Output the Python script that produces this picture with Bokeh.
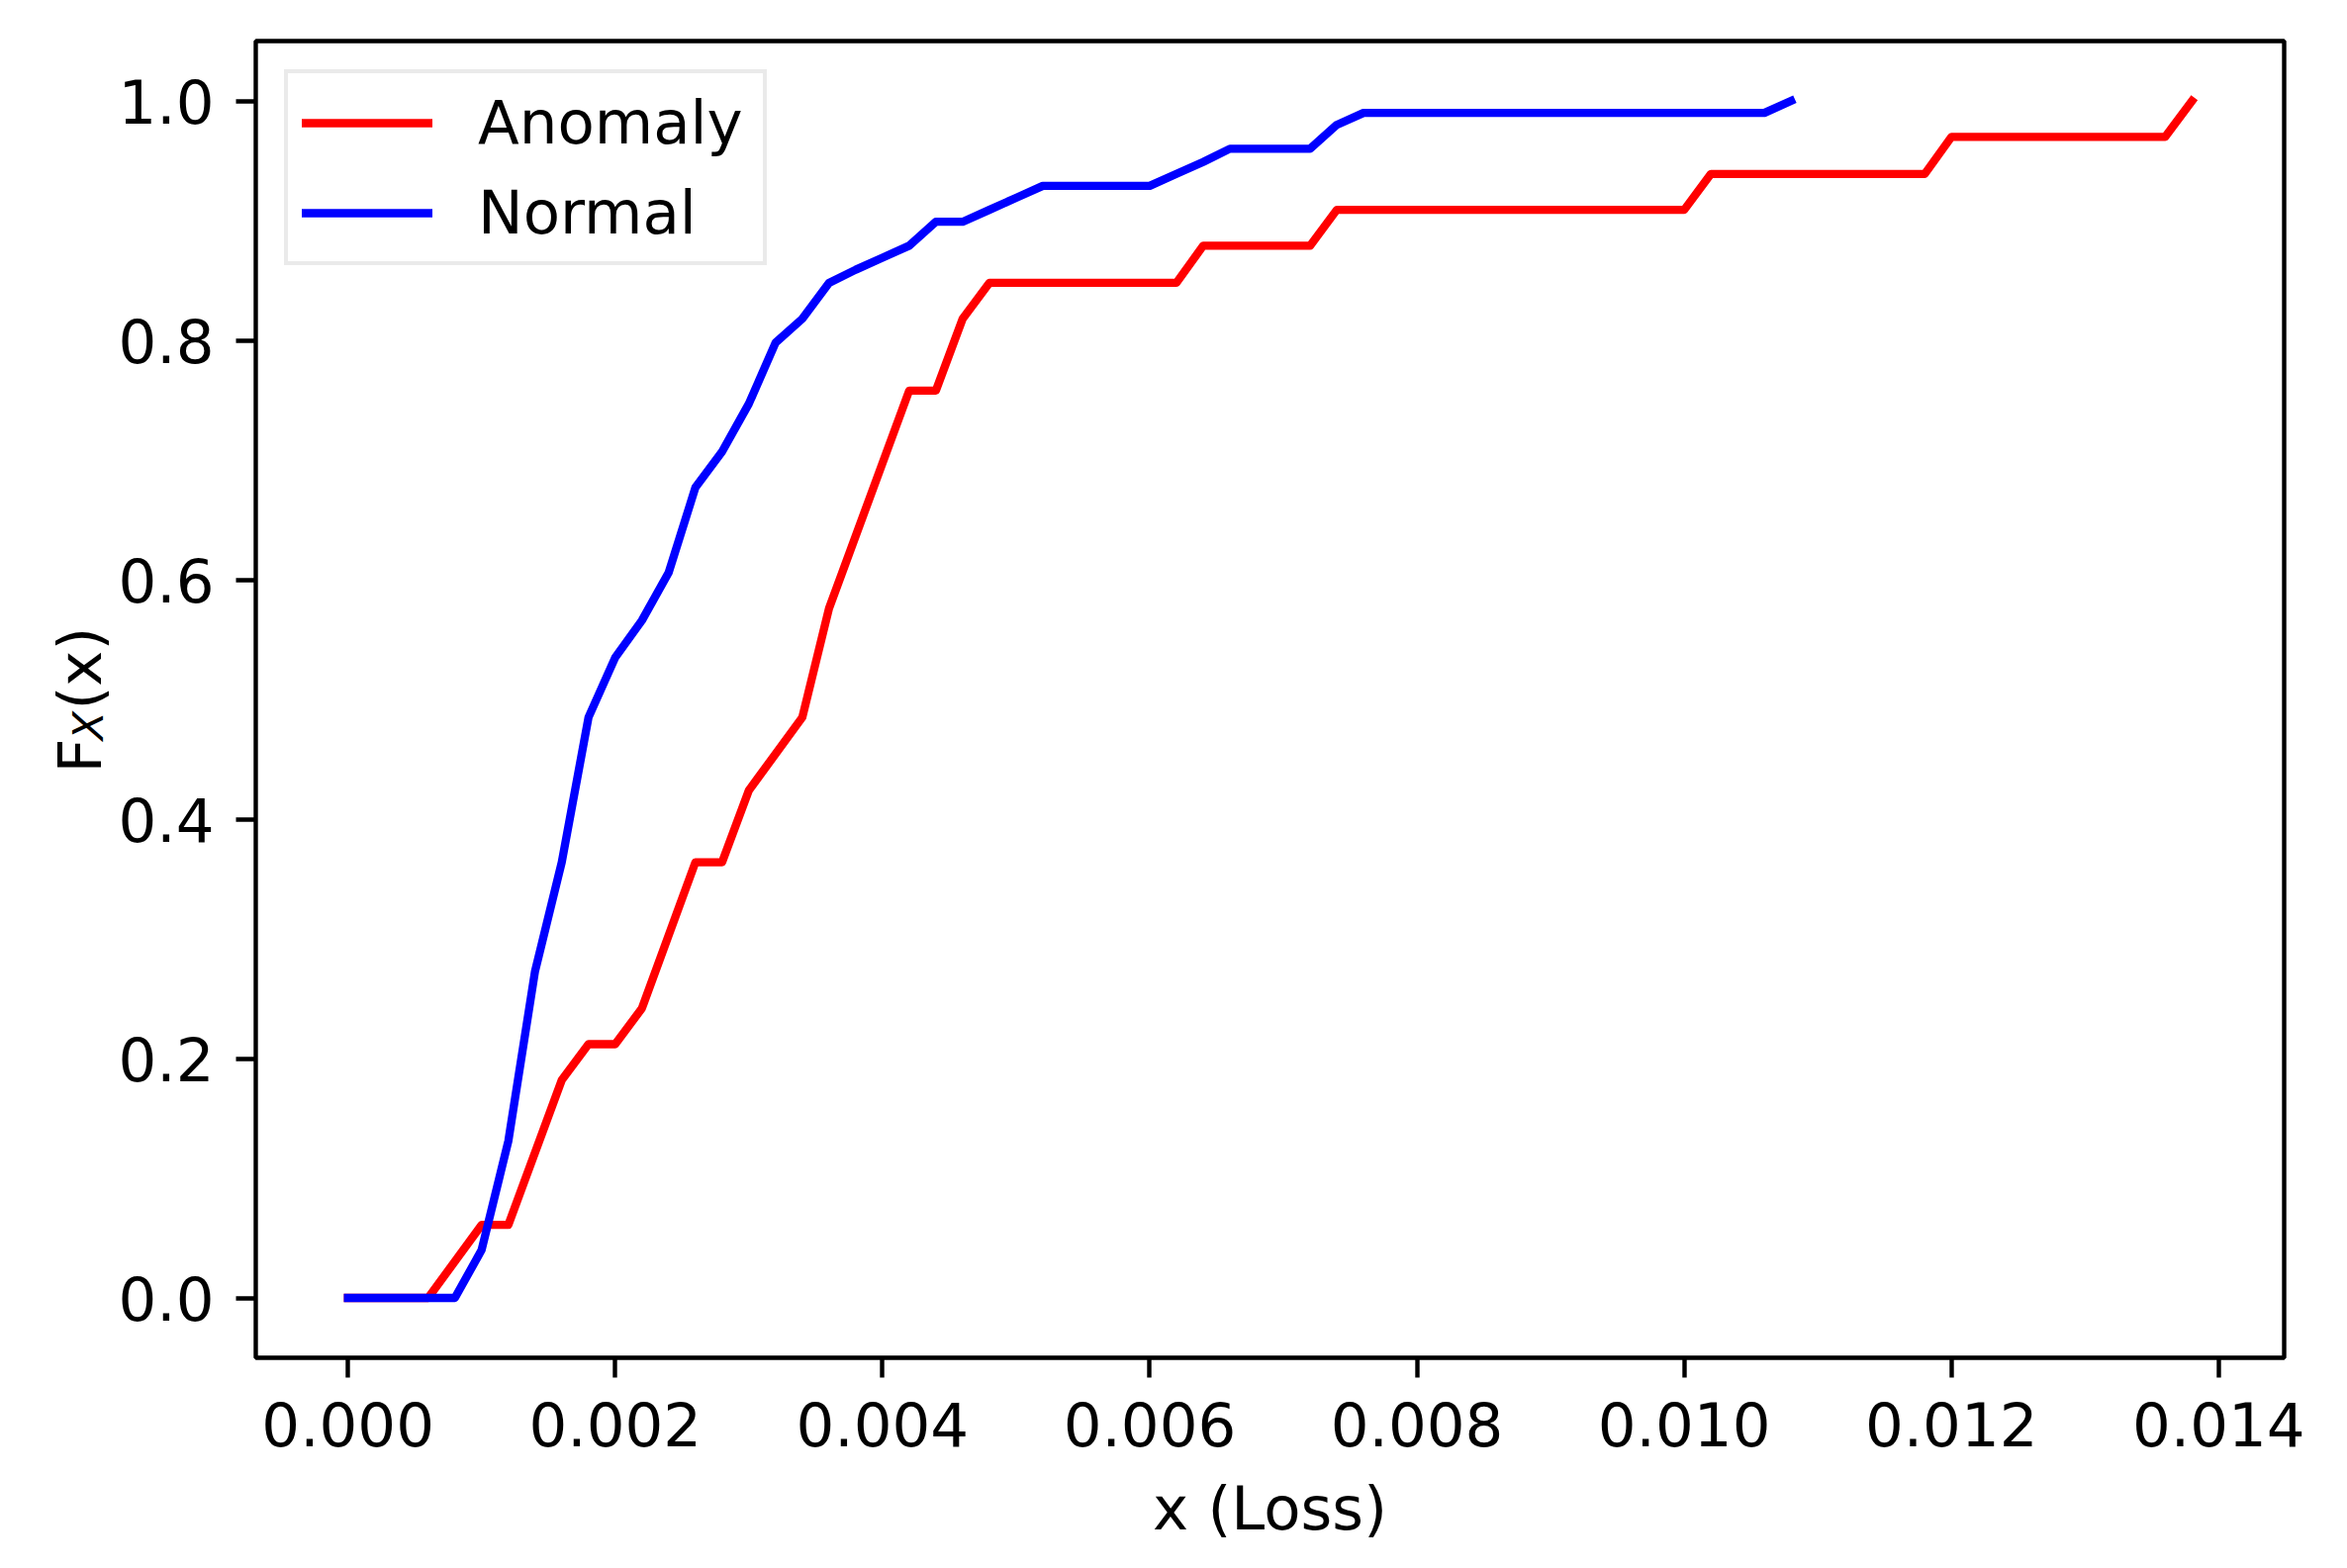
import math
from bokeh.plotting import figure
from bokeh.models import Range1d, FixedTicker, PrintfTickFormatter
from bokeh.core.properties import value
from bokeh.embed import file_html
from bokeh.resources import INLINE

# ---- data ----
anomaly_x = [0.0000, 0.0006, 0.0010, 0.0012, 0.0016, 0.0018, 0.0020, 0.0022, 0.0026,
             0.0028, 0.0030, 0.0034, 0.0036, 0.0042, 0.0044, 0.0046, 0.0048, 0.0062,
             0.0064, 0.0072, 0.0074, 0.0100, 0.0102, 0.0118, 0.0120, 0.0136, 0.0138]
anomaly_y = [0.000, 0.000, 0.061, 0.061, 0.182, 0.212, 0.212, 0.242, 0.364,
             0.364, 0.424, 0.485, 0.576, 0.758, 0.758, 0.818, 0.848, 0.848,
             0.879, 0.879, 0.909, 0.909, 0.939, 0.939, 0.970, 0.970, 1.000]

normal_x = [0.0000, 0.0008, 0.0010, 0.0012, 0.0014, 0.0016, 0.0018, 0.0020, 0.0022,
            0.0024, 0.0026, 0.0028, 0.0030, 0.0032, 0.0034, 0.0036, 0.0038, 0.0040,
            0.0042, 0.0044, 0.0046, 0.0048, 0.0050, 0.0052, 0.0060, 0.0062, 0.0064,
            0.0066, 0.0072, 0.0074, 0.0076, 0.0106, 0.0108]
normal_y = [0.000, 0.000, 0.040, 0.131, 0.273, 0.364, 0.485, 0.535, 0.566,
            0.606, 0.677, 0.707, 0.747, 0.798, 0.818, 0.848, 0.859, 0.869,
            0.879, 0.899, 0.899, 0.909, 0.919, 0.929, 0.929, 0.939, 0.949,
            0.960, 0.960, 0.980, 0.990, 0.990, 1.000]

x_ticks = [0.000, 0.002, 0.004, 0.006, 0.008, 0.010, 0.012, 0.014]
y_ticks = [0.0, 0.2, 0.4, 0.6, 0.8, 1.0]

x_label = "x (Loss)"
y_label_parts = ["F", "X", "(x)"]
series_names = ["Anomaly", "Normal"]
series_colors = ["#ff0000", "#0000ff"]

# ---- layout ----
FONT = "DejaVu Sans"
FS = "61px"
FRAME_W, FRAME_H = 2050, 1331
LEFT, TOP, RIGHT, BOTTOM = 258, 41, 60, 205

xmin, xmax = 0.0, max(max(anomaly_x), max(normal_x))
ymin, ymax = 0.0, 1.0
xpad = (xmax - xmin) * 0.05
ypad = (ymax - ymin) * 0.05
x0, x1 = xmin - xpad, xmax + xpad
y0, y1 = ymin - ypad, ymax + ypad

p = figure(frame_width=FRAME_W, frame_height=FRAME_H,
           min_border_left=LEFT, min_border_right=RIGHT,
           min_border_top=TOP, min_border_bottom=BOTTOM,
           x_range=Range1d(x0, x1), y_range=Range1d(y0, y1),
           output_backend="svg", toolbar_location=None,
           background_fill_color="white", border_fill_color="white")

p.xgrid.visible = False
p.ygrid.visible = False
p.outline_line_color = "black"
p.outline_line_width = 4.4
p.outline_line_alpha = 1.0

for ax in (p.xaxis[0], p.yaxis[0]):
    ax.axis_line_color = None
    ax.major_tick_line_color = "black"
    ax.major_tick_line_width = 4.4
    ax.major_tick_out = 20
    ax.major_tick_in = 0
    ax.minor_tick_line_color = None
    ax.major_label_text_font = FONT
    ax.major_label_text_font_size = FS
    ax.major_label_text_color = "black"

p.xaxis.ticker = FixedTicker(ticks=x_ticks)
p.yaxis.ticker = FixedTicker(ticks=y_ticks)
p.xaxis.formatter = PrintfTickFormatter(format="%.3f")
p.yaxis.formatter = PrintfTickFormatter(format="%.1f")
p.xaxis.major_label_standoff = 24
p.yaxis.major_label_standoff = 22

p.xaxis.axis_label = x_label
p.xaxis.axis_label_text_font = FONT
p.xaxis.axis_label_text_font_size = FS
p.xaxis.axis_label_text_font_style = "normal"
p.xaxis.axis_label_text_color = "black"
p.xaxis.axis_label_standoff = 24

p.line(anomaly_x, anomaly_y, line_color=series_colors[0], line_width=8.3,
       line_join="round", line_cap="square", legend_label=series_names[0])
p.line(normal_x, normal_y, line_color=series_colors[1], line_width=8.3,
       line_join="round", line_cap="square", legend_label=series_names[1])

lg = p.legend[0]
lg.location = "top_left"
lg.margin = 29
lg.padding = 14
lg.spacing = 20
lg.glyph_width = 132
lg.glyph_height = 70
lg.label_height = 70
lg.label_width = 274
lg.label_standoff = 46
lg.label_text_font = FONT
lg.label_text_font_size = FS
lg.label_text_color = "black"
lg.border_line_color = "#d6d6d6"
lg.border_line_width = 4
lg.background_fill_color = "white"
lg.background_fill_alpha = 1.0

# ---- y-axis label F_X(x): text glyphs placed left of the frame ----
def cx(px):
    return x0 + (px - LEFT) * (x1 - x0) / FRAME_W

def cy(py):
    return y1 - (py - TOP) * (y1 - y0) / FRAME_H

ang = math.pi / 2
p.text(x=[cx(80)], y=[cy(781)], text=[y_label_parts[0]], angle=ang, level="overlay",
       text_font=value(FONT), text_font_size=value(FS), text_color="black",
       text_align="left", text_baseline="alphabetic")
p.text(x=[cx(88)], y=[cy(748)], text=[y_label_parts[1]], angle=ang, level="overlay",
       text_font=value(FONT), text_font_size=value("43px"), text_font_style="italic",
       text_color="black", text_align="left", text_baseline="alphabetic")
p.text(x=[cx(80)], y=[cy(717)], text=[y_label_parts[2]], angle=ang, level="overlay",
       text_font=value(FONT), text_font_size=value(FS), text_color="black",
       text_align="left", text_baseline="alphabetic")

open("out.html", "w").write(file_html(p, INLINE))
